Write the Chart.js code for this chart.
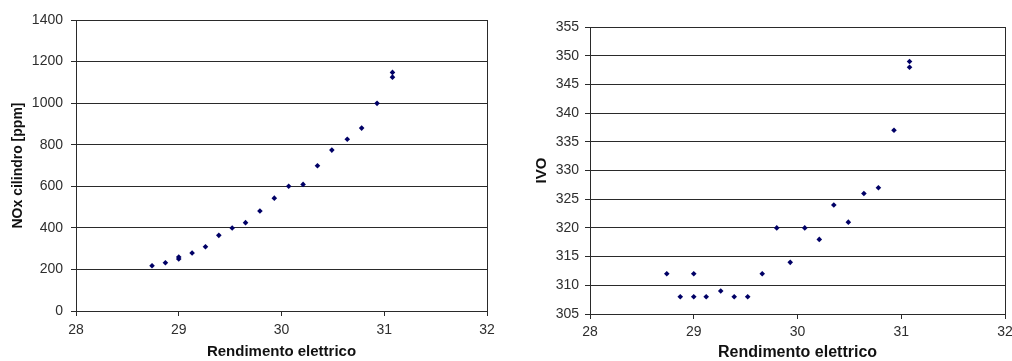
<!DOCTYPE html>
<html>
<head>
<meta charset="utf-8">
<script src="https://cdn.jsdelivr.net/npm/chart.js@4.4.1/dist/chart.umd.min.js"></script>
<style>
  html, body { margin: 0; padding: 0; background: #fff; }
  body { width: 1012px; height: 361px; position: relative; overflow: hidden; }
  .box { position: absolute; top: 0; width: 506px; height: 361px; }
  #b1 { left: 0; }
  #b2 { left: 506px; }
</style>
</head>
<body>
<div class="box" id="b1"><canvas id="c1" width="506" height="361"></canvas></div>
<div class="box" id="b2"><canvas id="c2" width="506" height="361"></canvas></div>
<script>
// ---- data ----
const xTitle = 'Rendimento elettrico';
const noxTitle = 'NOx cilindro [ppm]';
const ivoTitle = 'IVO';

const noxEfficiency = [28.74, 28.87, 29.0, 29.0, 29.13, 29.26, 29.39, 29.52, 29.65, 29.79, 29.93, 30.07, 30.21, 30.35, 30.49, 30.64, 30.78, 30.93, 31.08, 31.08];
const noxValues = [218, 232, 250, 260, 279, 309, 364, 399, 425, 481, 543, 600, 609, 699, 774, 826, 880, 999, 1125, 1148];

const ivoEfficiency = [28.74, 28.87, 29.0, 29.0, 29.12, 29.26, 29.39, 29.52, 29.66, 29.80, 29.93, 30.07, 30.21, 30.35, 30.49, 30.64, 30.78, 30.93, 31.08, 31.08];
const ivoValues = [312, 308, 312, 308, 308, 309, 308, 308, 312, 320, 314, 320, 318, 324, 321, 326, 327, 337, 348, 349];

const xRange = [28, 32, 1];
const noxRange = [0, 1400, 200];
const ivoRange = [305, 355, 5];

// ---- chart builder ----
const FONT = '"Liberation Sans", Arial, sans-serif';
const LINE = '#2a2a2a';
const TXT = '#2e2e2e';
const MARK = '#000066';

function makeChart(id, xs, ys, yRange, yTitle, geo) {
  const pts = xs.map((x, i) => ({ x: x, y: ys[i] }));
  return new Chart(document.getElementById(id), {
    type: 'scatter',
    data: { datasets: [{ data: pts, pointStyle: 'rectRot', pointRadius: geo.pr,
      pointBackgroundColor: MARK, pointBorderColor: MARK, pointBorderWidth: 0 }] },
    options: {
      responsive: false, animation: false, events: [],
      layout: { padding: { left: geo.padL, right: geo.padR, top: geo.padT, bottom: 0 } },
      plugins: { legend: { display: false }, tooltip: { enabled: false } },
      scales: {
        x: {
          type: 'linear', min: xRange[0], max: xRange[1],
          ticks: { stepSize: xRange[2], color: TXT, font: { family: FONT, size: 14 }, padding: geo.xTickPad, maxRotation: 0, callback: v => String(v) },
          grid: { color: c => (c.tick && c.tick.value === xRange[1]) ? LINE : 'rgba(0,0,0,0)', tickColor: LINE, tickLength: 5, lineWidth: 1 },
          border: { display: true, color: LINE, width: 1 },
          title: { display: true, text: xTitle, color: '#111', font: { family: FONT, size: geo.xTitleSize, weight: 'bold', lineHeight: 1 }, padding: { top: 0, bottom: geo.xTitlePad } },
          afterFit: s => { s.height = geo.xH; s.paddingLeft = 0; s.paddingRight = 0; }
        },
        y: {
          type: 'linear', min: yRange[0], max: yRange[1],
          ticks: { stepSize: yRange[2], color: TXT, font: { family: FONT, size: 14 }, padding: geo.yTickPad, callback: v => String(v) },
          grid: { color: LINE, tickColor: LINE, tickLength: 5, lineWidth: 1 },
          border: { display: true, color: LINE, width: 1 },
          title: { display: true, text: yTitle, color: '#111', font: { family: FONT, size: geo.yTitleSize, weight: 'bold', lineHeight: 1 }, padding: { top: geo.yTitlePad, bottom: 0 } },
          afterFit: s => { s.width = geo.yW; s.paddingTop = 0; s.paddingBottom = 0; }
        }
      }
    }
  });
}

makeChart('c1', noxEfficiency, noxValues, noxRange, noxTitle,
  { padL: 0, padR: 19, padT: 20, xH: 50, yW: 76, xTickPad: 6, yTickPad: 8,
    xTitleSize: 15, xTitlePad: 2, yTitleSize: 14, yTitlePad: 11, pr: 2.8 });

makeChart('c2', ivoEfficiency, ivoValues, ivoRange, ivoTitle,
  { padL: 20, padR: 7, padT: 27, xH: 47, yW: 64, xTickPad: 5, yTickPad: 6,
    xTitleSize: 16, xTitlePad: 0, yTitleSize: 15, yTitlePad: 8, pr: 2.8 });
</script>
</body>
</html>
